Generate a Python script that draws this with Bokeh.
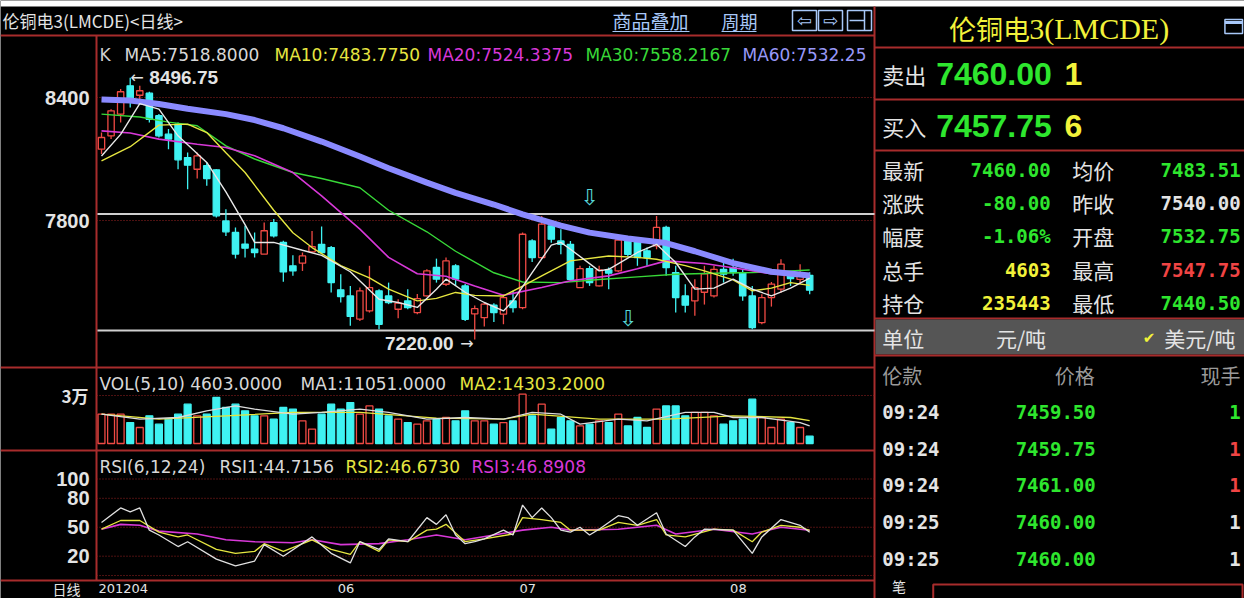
import numpy as np
from bokeh.plotting import figure
from bokeh.models import Range1d
from bokeh.core.properties import value
from bokeh.embed import file_html
from bokeh.resources import INLINE

# ---------------- data ----------------
opens = [8148, 8213, 8319, 8457, 8411, 8421, 8311, 8221, 8270, 8107,
         8050, 8067, 8047, 7798, 7742, 7685, 7660, 7636, 7790, 7693,
         7579, 7592, 7647, 7684, 7668, 7462, 7432, 7319, 7359, 7457,
         7432, 7367, 7408, 7351, 7432, 7571, 7489, 7579, 7481, 7345,
         7326, 7387, 7343, 7408, 7375, 7700, 7619, 7774, 7700, 7684,
         7473, 7565, 7481, 7559, 7554, 7700, 7701, 7652, 7676, 7766,
         7546, 7432, 7408, 7450, 7432, 7562, 7570, 7546, 7432, 7302,
         7424, 7465, 7540, 7513, 7532.75]
highs = [8229, 8343, 8441, 8496.75, 8457, 8428, 8319, 8246, 8278, 8132,
         8132, 8083, 8050, 7855, 7766, 7774, 7742, 7790, 7807, 7701,
         7631, 7644, 7749, 7771, 7676, 7538, 7481, 7473, 7579, 7465,
         7497, 7416, 7465, 7441, 7562, 7614, 7619, 7587, 7490, 7385,
         7400, 7396, 7440, 7457, 7741, 7709, 7822, 7790, 7757, 7700,
         7579, 7579, 7579, 7571, 7712, 7712, 7709, 7668, 7822, 7774,
         7579, 7489, 7513, 7579, 7579, 7614, 7614, 7559, 7481, 7440,
         7500, 7611, 7546, 7587, 7547.75]
lows = [8124, 8197, 8278, 8351, 8392, 8278, 8205, 8148, 8050, 7953,
        8005, 7969, 7815, 7725, 7615, 7620, 7620, 7636, 7717, 7501,
        7530, 7554, 7644, 7636, 7449, 7400, 7286, 7310, 7351, 7270,
        7392, 7323, 7367, 7343, 7429, 7497, 7481, 7481, 7310, 7220,
        7283, 7305, 7294, 7351, 7367, 7598, 7614, 7692, 7635, 7505,
        7473, 7481, 7478, 7465, 7549, 7624, 7579, 7579, 7660, 7530,
        7351, 7351, 7335, 7390, 7424, 7497, 7530, 7408, 7270, 7294,
        7380, 7448, 7481, 7489, 7440.5]
closes = [8205, 8335, 8428, 8392, 8433, 8294, 8213, 8197, 8096, 8070,
          8115, 8005, 7823, 7745, 7636, 7665, 7644, 7750, 7725, 7549,
          7554, 7627, 7673, 7644, 7497, 7429, 7332, 7457, 7473, 7294,
          7400, 7397, 7375, 7419, 7554, 7514, 7603, 7514, 7318, 7370,
          7392, 7351, 7424, 7375, 7733, 7619, 7782, 7709, 7684, 7513,
          7565, 7497, 7559, 7543, 7705, 7635, 7619, 7619, 7766, 7570,
          7424, 7387, 7473, 7540, 7562, 7538, 7546, 7432, 7278, 7424,
          7490, 7587, 7517, 7540, 7460]
volumes = [18300, 18300, 18300, 13100, 10000, 17300, 12100, 15200, 18300, 24600,
           17300, 18300, 28750, 22500, 24600, 20400, 17300, 17300, 15200, 22500,
           21500, 14200, 9000, 18300, 24600, 21500, 25600, 18300, 23500, 21500,
           17300, 15200, 13100, 12100, 14200, 15000, 16250, 14200, 20400, 14200,
           14200, 12100, 13100, 14200, 30800, 17300, 24600, 9000, 16250, 14200,
           11000, 12100, 14200, 13100, 18300, 11000, 16250, 10000, 21500, 23500,
           23500, 17300, 19400, 19400, 17300, 12100, 14200, 15200, 27700, 16250,
           10000, 15200, 13100, 10000, 4603]

ma5_i = [0, 2, 4, 6, 8, 11, 13, 15, 16, 18, 21, 23, 26, 29, 31, 33, 35, 36, 38, 40,
         42, 43, 45, 47, 48, 49, 52, 53, 56, 58, 60, 62, 64, 66, 68, 70, 72, 74]
ma5_v = [8115, 8220, 8370, 8343, 8213, 8083, 7940, 7780, 7693, 7693, 7655, 7630, 7550,
         7416, 7400, 7376, 7465, 7514, 7450, 7400, 7359, 7408, 7546, 7680, 7693, 7660,
         7554, 7562, 7644, 7684, 7595, 7465, 7470, 7514, 7465, 7432, 7470, 7518.8]
ma10_i = [0, 3, 6, 9, 11, 13, 15, 18, 20, 22, 25, 28, 30, 33, 35, 37, 39, 42, 44, 46,
          49, 53, 56, 58, 61, 63, 66, 68, 70, 72, 74]
ma10_v = [8091, 8160, 8265, 8270, 8229, 8130, 8034, 7850, 7740, 7668, 7580, 7520, 7465,
          7408, 7420, 7449, 7435, 7432, 7480, 7530, 7603, 7627, 7620, 7611, 7580, 7554,
          7510, 7457, 7470, 7497, 7483.775]
ma20_i = [0, 3, 6, 10, 13, 16, 20, 23, 27, 30, 33, 36, 39, 42, 46, 49, 53, 56, 59, 63,
          67, 70, 74]
ma20_v = [8237, 8227, 8197, 8172, 8156, 8116, 8034, 7920, 7758, 7620, 7540, 7528, 7481,
          7435, 7473, 7506, 7530, 7565, 7603, 7590, 7562, 7540, 7524.3375]
ma30_i = [0, 4, 7, 10, 13, 16, 20, 23, 27, 30, 34, 37, 41, 44, 48, 52, 56, 60, 64, 68,
          71, 74]
ma30_v = [8319, 8305, 8280, 8262, 8164, 8100, 8034, 8005, 7960, 7850, 7745, 7650, 7545,
          7500, 7497, 7512, 7525, 7538, 7543, 7546, 7552, 7558.2167]
ma60_i = [0, 3, 6, 9, 13, 16, 19, 23, 27, 30, 34, 37, 41, 44, 48, 51, 55, 59, 62, 66,
          70, 74]
ma60_v = [8390, 8385, 8368, 8345, 8319, 8290, 8250, 8185, 8112, 8055, 7985, 7935, 7878,
          7830, 7775, 7741, 7712, 7690, 7650, 7592, 7550, 7532.25]

vma1_i = [0, 4, 8, 11, 14, 16, 20, 23, 27, 30, 34, 38, 42, 45, 48, 50, 54, 57, 61, 64,
          66, 69, 73, 74]
vma1_v = [18300, 15200, 16250, 20400, 23500, 21500, 18300, 19400, 21500, 19400, 15200,
          16250, 15200, 19400, 18300, 12100, 15200, 14200, 19400, 19400, 16250, 16250,
          13100, 11051]
vma2_i = [0, 6, 13, 20, 27, 35, 42, 45, 52, 59, 66, 72, 74]
vma2_v = [18300, 15200, 17300, 19400, 19400, 15800, 15200, 18300, 15200, 15200, 17300,
          16250, 14303.2]

rsi1_i = [0, 2, 3, 4, 5, 6, 8, 9, 12, 14, 16, 17, 19, 22, 24, 26, 27, 29, 30, 32, 34,
          35, 36, 37, 38, 39, 40, 42, 43, 44, 45, 46, 47, 48, 49, 50, 51, 52, 54, 55,
          56, 58, 59, 61, 62, 63, 66, 68, 69, 71, 73, 74]
rsi1_v = [55, 70, 66, 70, 47, 42, 30, 35, 17, 10, 15, 32, 20, 40, 23, 13, 35, 27, 38, 35,
          60, 53, 63, 42, 33, 35, 38, 47, 42, 73, 60, 70, 60, 47, 45, 50, 42, 48, 62, 60,
          52, 65, 43, 30, 40, 48, 47, 23, 40, 58, 52, 44.7156]
rsi2_i = [0, 2, 4, 6, 8, 9, 12, 14, 16, 17, 19, 22, 24, 26, 27, 29, 30, 32, 34, 35, 36,
          38, 40, 43, 44, 46, 48, 49, 52, 54, 56, 58, 59, 61, 64, 66, 68, 69, 71, 73, 74]
rsi2_v = [48, 57, 57, 45, 40, 42, 27, 23, 25, 33, 25, 37, 27, 22, 35, 25, 37, 35, 47, 48,
          53, 35, 38, 43, 60, 58, 55, 47, 47, 55, 52, 58, 42, 40, 48, 47, 35, 45, 52, 50,
          46.673]
rsi3_i = [0, 2, 4, 6, 10, 13, 16, 20, 22, 25, 29, 32, 35, 38, 41, 44, 47, 49, 54, 58,
          60, 64, 68, 71, 74]
rsi3_v = [48, 53, 52, 46, 43, 37, 35, 34, 37, 32, 33, 37, 42, 37, 42, 47, 50, 47, 48, 52,
          43, 48, 43, 50, 46.8908]

sig_idx = [51, 55]          # hollow down-arrow signals
sig_val = [7912, 7322]
hline_vals = [7832, 7263]   # white horizontal lines
price_ticks = [8400, 7800]
vol_ticks = [30000]
vol_tick_labels = ["3万"]
rsi_ticks = [100, 80, 50, 20]
rsi_grid = [100, 80, 50, 20, 0]
month_idx = [0, 25, 44, 66]
month_labels = ["201204", "06", "07", "08"]

quote_labels1 = ["最新", "涨跌", "幅度", "总手", "持仓"]
quote_values1 = ["7460.00", "-80.00", "-1.06%", "4603", "235443"]
quote_labels2 = ["均价", "昨收", "开盘", "最高", "最低"]
quote_values2 = ["7483.51", "7540.00", "7532.75", "7547.75", "7440.50"]
tick_times = ["09:24", "09:24", "09:24", "09:25", "09:25"]
tick_prices = ["7459.50", "7459.75", "7461.00", "7460.00", "7460.00"]
tick_qty = ["1", "1", "1", "1", "1"]

# ---------------- styles ----------------
BG = "#000000"
RED = "#f04a44"
CYAN = "#3ff2f2"
BORDER = "#a82c2c"
DOT = "#9a2222"
C_WHITE = "#e4e4e4"
C_YEL = "#e6e640"
C_MAG = "#d838d8"
C_GRN = "#38d838"
C_LAV = "#8a8aff"
Q_GRN = "#2ee62e"
Q_YEL = "#f2f23a"
Q_RED = "#f04444"
LINK = "#a8c8f8"
CJK = "Noto Sans CJK SC"
MONO = "DejaVu Sans Mono"

# pixel geometry (page coordinates)
X0, DX = 109.0, 9.57            # first candle x, candle spacing
P_Y, P_V, P_S = 105.0, 8400.0, 0.205
V_Y, V_S = 451.0, 625.0
R_Y, R_S = 583.0, 0.965

p = figure(width=1244, height=598, output_backend="svg", toolbar_location=None, tools="",
           x_range=Range1d(8, 1252), y_range=Range1d(606, 8),
           x_axis_location=None, y_axis_location=None, min_border=0,
           background_fill_color=BG, border_fill_color=BG, outline_line_color=None)
p.grid.visible = False
p.extra_x_ranges = {"idx": Range1d((8 - X0) / DX, (1252 - X0) / DX)}
p.extra_y_ranges = {
    "price": Range1d(P_V - (606 - P_Y) / P_S, P_V - (8 - P_Y) / P_S),
    "vol": Range1d((V_Y - 606) * V_S, (V_Y - 8) * V_S),
    "rsi": Range1d((R_Y - 606) / R_S, (R_Y - 8) / R_S),
}
IL = (104 - X0) / DX
IR = (882 - X0) / DX


def txt(x, y, s, color, size, font=CJK, style="normal", align="left", xr="default", yr="default"):
    p.text(x=[x], y=[y], text=[s], text_color=color, text_font=value(font),
           text_font_size=f"{size}px", text_font_style=style, text_align=align,
           text_baseline="middle", x_range_name=xr, y_range_name=yr)


def hseg(x0, x1, y, color=BORDER, w=2, dash="solid"):
    p.segment(x0=[x0], x1=[x1], y0=[y], y1=[y], line_color=color, line_width=w, line_dash=dash)


def vseg(x, y0, y1, color=BORDER, w=2):
    p.segment(x0=[x], x1=[x], y0=[y0], y1=[y1], line_color=color, line_width=w)


def rx(x):
    return 882 + (x - 882) * 370.0 / 378.0


# top white strip
p.quad(left=[8], right=[1252], top=[8], bottom=[14], fill_color="white", line_color=None)

# ---------------- frame lines ----------------
for yy in (43, 375, 458, 588):
    hseg(8, 882, yy)
vseg(104, 43, 588)
vseg(882, 14, 606)
for yy in (55, 107, 158):
    hseg(882, 1252, yy)

# dotted grid
for v in price_ticks:
    p.segment(x0=[IL], x1=[IR], y0=[v], y1=[v], line_color=DOT, line_width=1, line_dash="1 2",
              x_range_name="idx", y_range_name="price")
for v in vol_ticks:
    p.segment(x0=[IL], x1=[IR], y0=[v], y1=[v], line_color=DOT, line_width=1, line_dash="1 2",
              x_range_name="idx", y_range_name="vol")
for v in rsi_grid:
    p.segment(x0=[IL], x1=[IR], y0=[v], y1=[v], line_color=DOT, line_width=1, line_dash="1 2",
              x_range_name="idx", y_range_name="rsi")
# white horizontal lines
for v in hline_vals:
    p.segment(x0=[IL + 0.1], x1=[IR], y0=[v], y1=[v], line_color="#cfcfcf", line_width=2,
              x_range_name="idx", y_range_name="price")

# ---------------- candles ----------------
idx = np.arange(len(opens))
o = np.array(opens, float); c = np.array(closes, float)
hi = np.array(highs, float); lo = np.array(lows, float)
up = c >= o
for mask, col, fill in ((up, RED, BG), (~up, CYAN, CYAN)):
    p.segment(x0=idx[mask], x1=idx[mask], y0=lo[mask], y1=hi[mask], line_color=col, line_width=1.3,
              x_range_name="idx", y_range_name="price")
    p.vbar(x=idx[mask], width=0.66, top=np.maximum(o, c)[mask], bottom=np.minimum(o, c)[mask],
           fill_color=fill, line_color=col, line_width=1.3, x_range_name="idx", y_range_name="price")

# moving averages
p.line(ma30_i, ma30_v, line_color=C_GRN, line_width=1.4, x_range_name="idx", y_range_name="price")
p.line(ma20_i, ma20_v, line_color=C_MAG, line_width=1.6, x_range_name="idx", y_range_name="price")
p.line(ma10_i, ma10_v, line_color=C_YEL, line_width=1.4, x_range_name="idx", y_range_name="price")
p.line(ma60_i, ma60_v, line_color=C_LAV, line_width=6, x_range_name="idx", y_range_name="price")
p.line(ma5_i, ma5_v, line_color="#e8e8e8", line_width=1.4, x_range_name="idx", y_range_name="price")

# signals
p.text(x=sig_idx, y=sig_val, text=["⇩"] * len(sig_idx), text_color="#58d8d8",
       text_font=value("DejaVu Sans"), text_font_size="22px", text_align="center",
       text_baseline="middle", x_range_name="idx", y_range_name="price")

# high / low labels
imax = int(np.argmax(hi)); imin = int(np.argmin(lo))
txt(imax, hi[imax], "←", C_WHITE, 16, font="DejaVu Sans", xr="idx", yr="price")
txt(imax + 2.0, hi[imax], f"{hi[imax]:.2f}", C_WHITE, 19, font="Liberation Sans", style="bold",
    xr="idx", yr="price")
txt(imin - 0.1, lo[imin] - 18, "→", C_WHITE, 16, font="DejaVu Sans", align="right", xr="idx", yr="price")
txt(imin - 2.2, lo[imin] - 18, f"{lo[imin]:.2f}", C_WHITE, 19, font="Liberation Sans", style="bold",
    align="right", xr="idx", yr="price")

# ---------------- volume ----------------
vol = np.array(volumes, float)
for mask, col, fill in ((up, RED, BG), (~up, CYAN, CYAN)):
    p.vbar(x=idx[mask], width=0.72, top=vol[mask], bottom=0, fill_color=fill, line_color=col,
           line_width=1.3, x_range_name="idx", y_range_name="vol")
p.line(vma2_i, vma2_v, line_color=C_YEL, line_width=1.3, x_range_name="idx", y_range_name="vol")
p.line(vma1_i, vma1_v, line_color="#dcdcdc", line_width=1.3, x_range_name="idx", y_range_name="vol")

# ---------------- RSI ----------------
p.line(rsi3_i, rsi3_v, line_color=C_MAG, line_width=1.6, x_range_name="idx", y_range_name="rsi")
p.line(rsi2_i, rsi2_v, line_color=C_YEL, line_width=1.3, x_range_name="idx", y_range_name="rsi")
p.line(rsi1_i, rsi1_v, line_color="#e0e0e0", line_width=1.3, x_range_name="idx", y_range_name="rsi")

# ---------------- axis labels ----------------
for v in price_ticks:
    txt(97, v, str(v), C_WHITE, 20, font="Liberation Sans", style="bold", align="right", yr="price")
for v, lab in zip(vol_ticks, vol_tick_labels):
    txt(96, v, lab, C_WHITE, 17, style="bold", align="right", yr="vol")
for v in rsi_ticks:
    txt(97, v, str(v), C_WHITE, 20, font="Liberation Sans", style="bold", align="right", yr="rsi")
txt(60, 596, "日线", C_WHITE, 14)
for i_m, lab in zip(month_idx, month_labels):
    p.text(x=[i_m], y=[596], text=[lab], text_color=C_WHITE, text_font=value("DejaVu Sans"),
           text_font_size="13px", text_align="left", text_baseline="middle", x_offset=-3,
           x_range_name="idx")

# ---------------- legends ----------------
LF = "DejaVu Sans"
txt(107, 62, "K", "#cfcfcf", 17, font=LF)
txt(132, 62, f"MA5:{ma5_v[-1]:.4f}", "#d8d8d8", 17, font=LF)
txt(282, 62, f"MA10:{ma10_v[-1]:.4f}", C_YEL, 17, font=LF)
txt(435, 62, f"MA20:{ma20_v[-1]:.4f}", C_MAG, 17, font=LF)
txt(593, 62, f"MA30:{ma30_v[-1]:.4f}", C_GRN, 17, font=LF)
txt(750, 62, f"MA60:{ma60_v[-1]:.2f}", "#9898f8", 17, font=LF)
txt(107, 391, f"VOL(5,10) {vol[-1]:.4f}", "#d8d8d8", 17, font=LF)
txt(308, 391, f"MA1:{vma1_v[-1]:.4f}", "#d8d8d8", 17, font=LF)
txt(467, 391, f"MA2:{vma2_v[-1]:.4f}", C_YEL, 17, font=LF)
txt(107, 474, "RSI(6,12,24)", "#d8d8d8", 17, font=LF)
txt(227, 474, f"RSI1:{rsi1_v[-1]:.4f}", "#d8d8d8", 17, font=LF)
txt(353, 474, f"RSI2:{rsi2_v[-1]:.4f}", C_YEL, 17, font=LF)
txt(479, 474, f"RSI3:{rsi3_v[-1]:.4f}", C_MAG, 17, font=LF)

# ---------------- title bar ----------------
txt(10, 28, "伦铜电3(LMCDE)<日线>", C_WHITE, 17)
txt(620, 28, "商品叠加", LINK, 19)
hseg(620, 697, 39, color=LINK, w=1)
txt(729, 28, "周期", LINK, 18)
hseg(729, 764, 39, color=LINK, w=1)
p.quad(left=[800, 826, 855], right=[824, 850, 879], top=[18, 18, 18], bottom=[38, 38, 38],
       fill_color=None, line_color=LINK, line_width=1.5)
txt(812, 28, "⇦", LINK, 18, font="DejaVu Sans", align="center")
txt(838, 28, "⇨", LINK, 18, font="DejaVu Sans", align="center")
hseg(857, 872, 28, color=LINK, w=1.5)
vseg(872, 18, 38, color=LINK, w=1.5)

# ---------------- right quote panel ----------------
txt(rx(958), 36, "伦铜电", Q_YEL, 27)
txt(rx(1040), 36, "3(LMCDE)", Q_YEL, 30, font="Liberation Serif")
p.quad(left=[rx(1240)], right=[rx(1258)], top=[27], bottom=[41], fill_color=None,
       line_color=LINK, line_width=1.5)
hseg(rx(1240), rx(1258), 30, color=LINK, w=3)

txt(rx(890), 81, "卖出", C_WHITE, 22)
txt(rx(945), 81, "7460.00", Q_GRN, 32, font="Liberation Sans", style="bold")
txt(rx(1076), 81, "1", Q_YEL, 32, font="Liberation Sans", style="bold")
txt(rx(890), 133, "买入", C_WHITE, 22)
txt(rx(945), 133, "7457.75", Q_GRN, 32, font="Liberation Sans", style="bold")
txt(rx(1076), 133, "6", Q_YEL, 32, font="Liberation Sans", style="bold")

qy = [177, 210, 243, 277, 310]
qc1 = [Q_GRN, Q_GRN, Q_GRN, Q_YEL, Q_YEL]
qc2 = [Q_GRN, C_WHITE, Q_GRN, Q_RED, Q_GRN]
for yy, l1, v1, c1, l2, v2, c2 in zip(qy, quote_labels1, quote_values1, qc1,
                                      quote_labels2, quote_values2, qc2):
    txt(rx(890), yy, l1, C_WHITE, 21)
    txt(rx(1062), yy, v1, c1, 19, font=MONO, style="bold", align="right")
    txt(rx(1084), yy, l2, C_WHITE, 21)
    txt(rx(1256), yy, v2, c2, 19, font=MONO, style="bold", align="right")

hseg(882, 1252, 326, w=2)
p.quad(left=[883], right=[1252], top=[327], bottom=[362], fill_color="#555555", line_color=None)
hseg(882, 1252, 363, w=2)
txt(rx(890), 345, "单位", C_WHITE, 21)
txt(rx(1006), 345, "元/吨", C_WHITE, 21)
txt(rx(1156), 345, "✔", Q_YEL, 15, font="DejaVu Sans")
txt(rx(1178), 345, "美元/吨", C_WHITE, 21)

txt(rx(890), 383, "伦款", "#9a9a9a", 20)
txt(rx(1107), 383, "价格", "#9a9a9a", 20, align="right")
txt(rx(1256), 383, "现手", "#9a9a9a", 20, align="right")
ty = [419, 456, 492, 529, 566]
qtyc = [Q_GRN, Q_RED, Q_RED, C_WHITE, C_WHITE]
for yy, t, pr, q, qc in zip(ty, tick_times, tick_prices, tick_qty, qtyc):
    txt(rx(890), yy, t, C_WHITE, 19, font=MONO, style="bold")
    txt(rx(1108), yy, pr, Q_GRN, 19, font=MONO, style="bold", align="right")
    txt(rx(1256), yy, q, qc, 19, font=MONO, style="bold", align="right")

txt(rx(900), 593, "笔", C_WHITE, 14)
p.quad(left=[rx(942)], right=[rx(1258)], top=[592], bottom=[620], fill_color=None,
       line_color=BORDER, line_width=2)

open("out.html", "w").write(file_html(p, INLINE, "chart"))
